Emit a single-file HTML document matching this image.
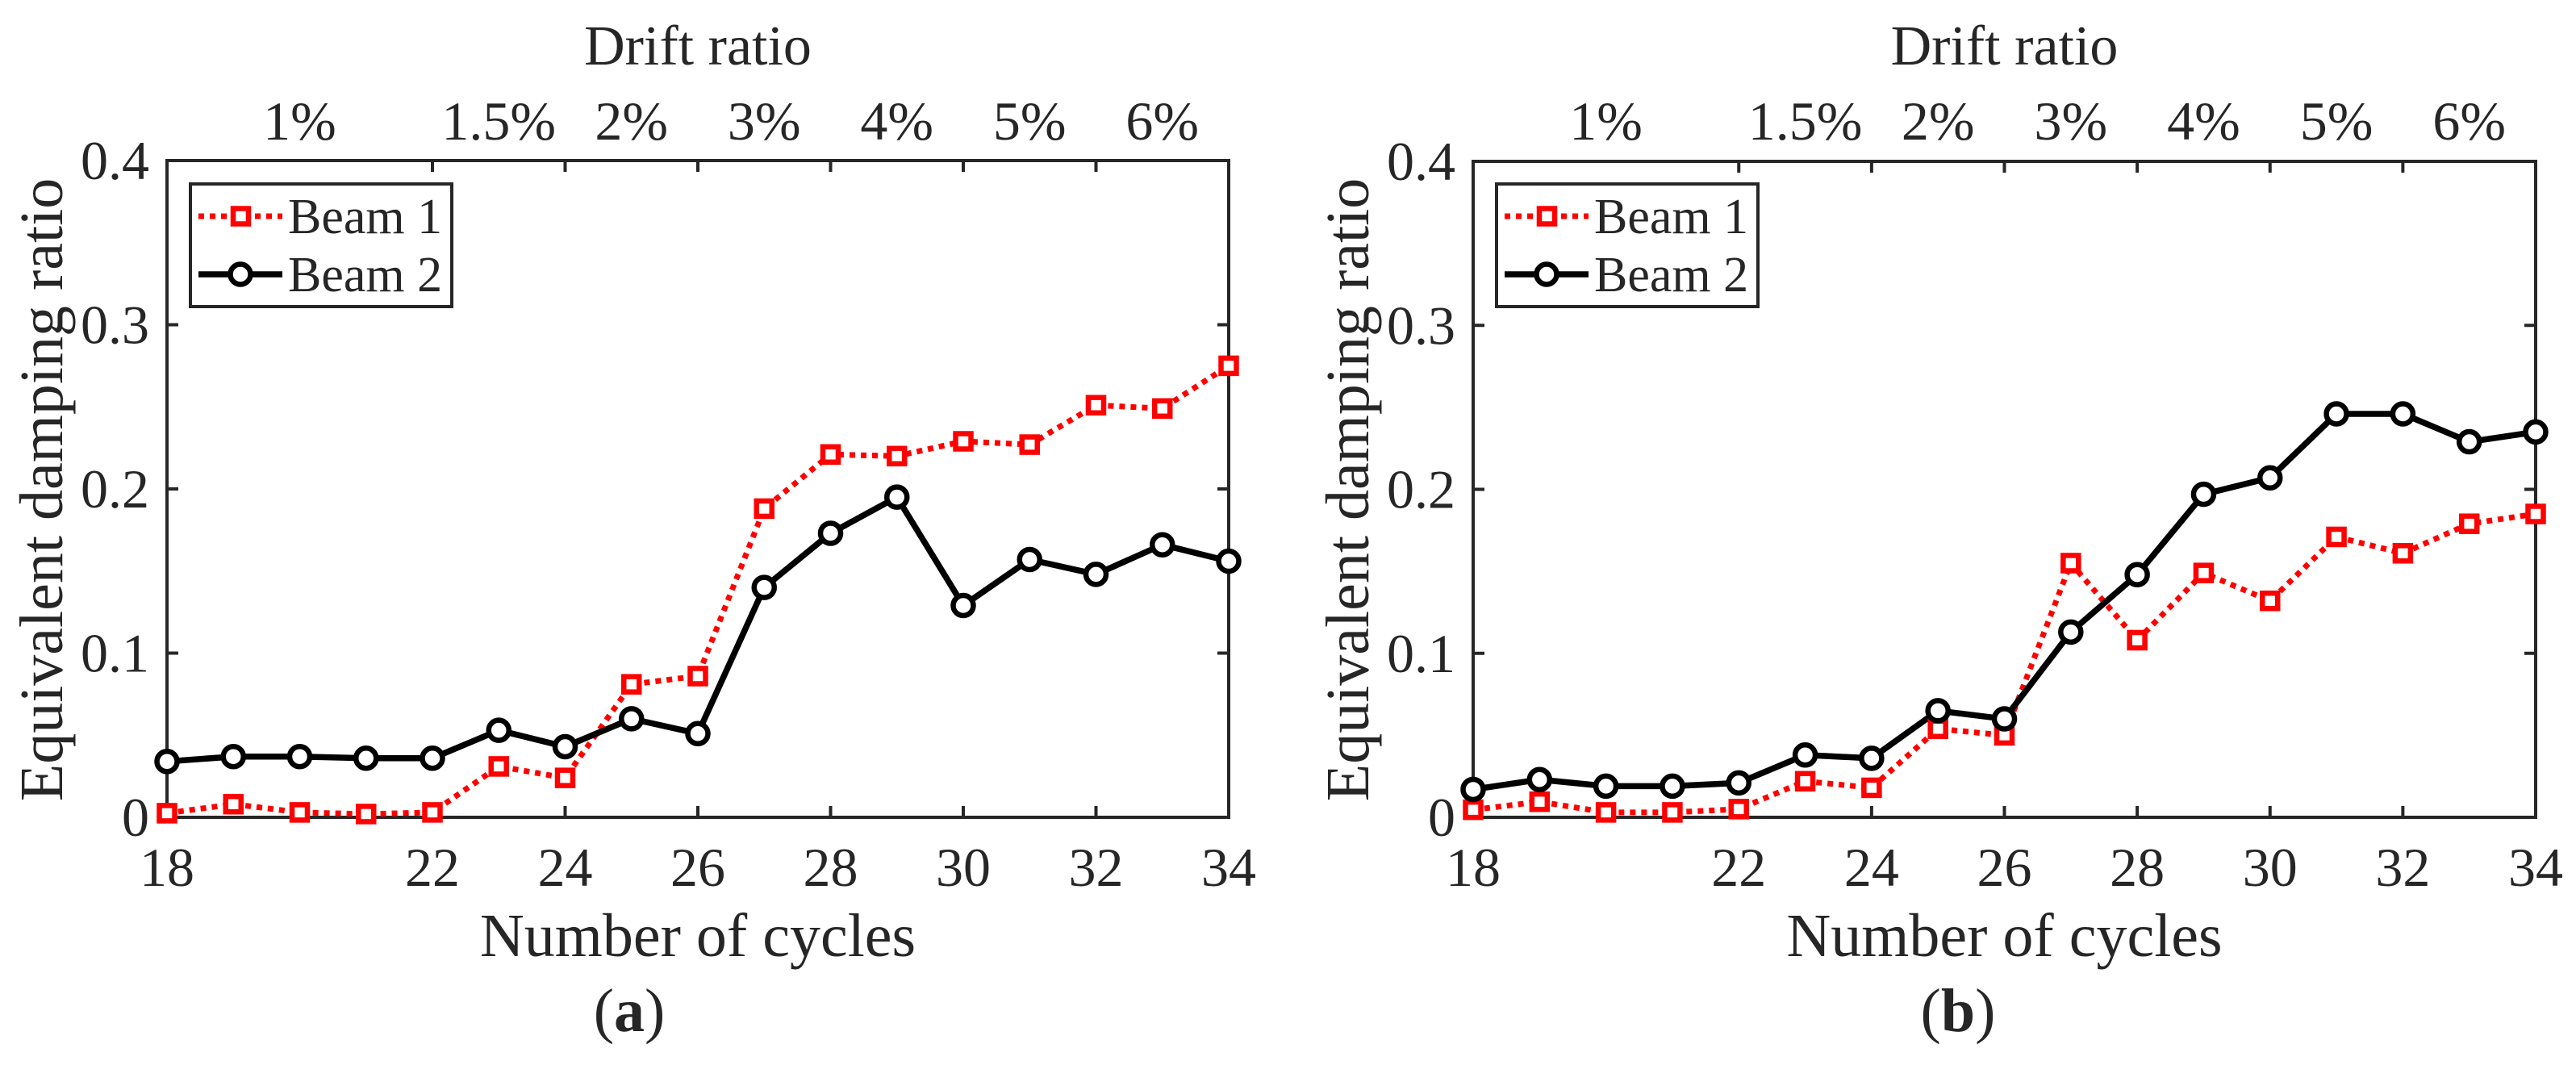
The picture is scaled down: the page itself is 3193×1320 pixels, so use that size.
<!DOCTYPE html>
<html><head><meta charset="utf-8"><style>
html,body{margin:0;padding:0;background:#fff;}
svg{display:block;}
text{font-family:"Liberation Serif",serif;fill:#262626;}
</style></head><body>
<svg id="fig" width="3193" height="1320" viewBox="0 0 3193 1320" xmlns="http://www.w3.org/2000/svg"></svg>
<script>
const cycles = [18,19,20,21,22,23,24,25,26,27,28,29,30,31,32,33,34];
const beam1A = [0.0025,0.008,0.003,0.002,0.003,0.031,0.024,0.081,0.086,0.188,0.221,0.220,0.229,0.227,0.251,0.249,0.275];
const beam2A = [0.034,0.037,0.037,0.036,0.036,0.053,0.043,0.060,0.051,0.140,0.173,0.195,0.129,0.157,0.148,0.166,0.156];
const beam1B = [0.0046,0.0095,0.003,0.003,0.005,0.022,0.018,0.054,0.050,0.155,0.108,0.149,0.132,0.171,0.161,0.179,0.185];
const beam2B = [0.017,0.023,0.019,0.019,0.021,0.038,0.036,0.065,0.060,0.113,0.148,0.197,0.207,0.246,0.246,0.229,0.235];
const xTicks = [18,22,24,26,28,30,32,34];
const yTicks = [0,0.1,0.2,0.3,0.4];
const yTickLabels = ["0","0.1","0.2","0.3","0.4"];
const driftPos = [20,23,25,27,29,31,33];
const driftLabels = ["1%","1.5%","2%","3%","4%","5%","6%"];

const NS="http://www.w3.org/2000/svg";
const svg=document.getElementById('fig');
function mk(tag,attrs,parent){const e=document.createElementNS(NS,tag);for(const k in attrs)e.setAttribute(k,attrs[k]);(parent||svg).appendChild(e);return e;}

function panel(P){
  const g=mk('g',{});
  
  
  const X=c=>P.l+(c-18)/(34-18)*(P.r-P.l);
  const Y=v=>P.b-v/0.4*(P.b-P.t);
  // ticks
  xTicks.forEach(c=>{
    const x=X(c);
    const t1=mk('line',{x1:x,y1:P.b,x2:x,y2:P.b-14,stroke:'#262626','stroke-width':4},g);
    
    const t2=mk('line',{x1:x,y1:P.t,x2:x,y2:P.t+14,stroke:'#262626','stroke-width':4},g);
    
    const tl=mk('text',{x:x,y:1098,'font-size':68,'text-anchor':'middle'},g);tl.textContent=c;
    
  });
  yTicks.forEach((v,i)=>{
    const y=Y(v);
    const t1=mk('line',{x1:P.l,y1:y,x2:P.l+14,y2:y,stroke:'#262626','stroke-width':4},g);
    
    const t2=mk('line',{x1:P.r,y1:y,x2:P.r-14,y2:y,stroke:'#262626','stroke-width':4},g);
    
    const tl=mk('text',{x:P.l-22,y:y+23,'font-size':68,'text-anchor':'end'},g);tl.textContent=yTickLabels[i];
    
  });
  driftPos.forEach((c,i)=>{
    const tl=mk('text',{x:X(c),y:173,'font-size':68,'text-anchor':'middle'},g);tl.textContent=driftLabels[i];
    
  });
  const frame=mk('rect',{x:P.l,y:P.t,width:P.r-P.l,height:P.b-P.t,fill:'none',stroke:'#262626','stroke-width':4},g);
  
  // series
  const p1=cycles.map((c,i)=>X(c)+','+Y(P.s1[i])).join(' ');
  const l1=mk('polyline',{points:p1,fill:'none',stroke:'#ff0000','stroke-width':7,'stroke-dasharray':'7 7'},g);
  
  const p2=cycles.map((c,i)=>X(c)+','+Y(P.s2[i])).join(' ');
  const l2=mk('polyline',{points:p2,fill:'none',stroke:'#000','stroke-width':7.5,'stroke-linejoin':'round'},g);
  
  cycles.forEach((c,i)=>{
    const m=mk('rect',{x:X(c)-9.5,y:Y(P.s1[i])-9.5,width:19,height:19,fill:'#fff',stroke:'#ff0000','stroke-width':6.5},g);
    
  });
  cycles.forEach((c,i)=>{
    const m=mk('circle',{cx:X(c),cy:Y(P.s2[i]),r:12.5,fill:'#fff',stroke:'#000','stroke-width':6.5},g);
    
  });
  // legend
  const lg=mk('g',{},g);
  
  const L=P.l+29;
  mk('rect',{x:L,y:228,width:324,height:152,fill:'#fff',stroke:'#262626','stroke-width':4},lg);
  const e1=mk('g',{},lg);
  mk('line',{x1:L+10,y1:268,x2:L+114,y2:268,stroke:'#ff0000','stroke-width':7,'stroke-dasharray':'7 7'},e1);
  mk('rect',{x:L+53,y:258.5,width:19,height:19,fill:'#fff',stroke:'#ff0000','stroke-width':6.5},e1);
  const t1=mk('text',{x:L+121,y:289,'font-size':62},e1);t1.textContent='Beam 1';
  const e2=mk('g',{},lg);
  mk('line',{x1:L+10,y1:340,x2:L+114,y2:340,stroke:'#000','stroke-width':7.5},e2);
  mk('circle',{cx:L+62,cy:340,r:12.5,fill:'#fff',stroke:'#000','stroke-width':6.5},e2);
  const t2=mk('text',{x:L+121,y:361,'font-size':62},e2);t2.textContent='Beam 2';
  // titles
  const cx=(P.l+P.r)/2;
  const dt=mk('text',{x:cx,y:80,'font-size':70,'text-anchor':'middle'},g);dt.textContent='Drift ratio';
  
  const xt=mk('text',{x:cx,y:1185,'font-size':76,'text-anchor':'middle'},g);xt.textContent='Number of cycles';
  
  const yt=mk('text',{x:0,y:0,'font-size':76,'text-anchor':'middle',transform:'translate('+(P.ylx)+',607) rotate(-90)'},g);yt.textContent='Equivalent damping ratio';
  
  const cap=mk('text',{x:P.capx,y:1278,'font-size':76,'text-anchor':'middle'},g);
  
  cap.appendChild(document.createTextNode('('));
  const b=mk('tspan',{'font-weight':'bold'},cap);b.textContent=P.id;
  cap.appendChild(document.createTextNode(')'));
}
panel({id:'a',l:207,r:1523,t:199,b:1013,s1:beam1A,s2:beam2A,ylx:77,capx:780});
panel({id:'b',l:1826,r:3143,t:200,b:1013,s1:beam1B,s2:beam2B,ylx:1696,capx:2427});
</script>
</body></html>
